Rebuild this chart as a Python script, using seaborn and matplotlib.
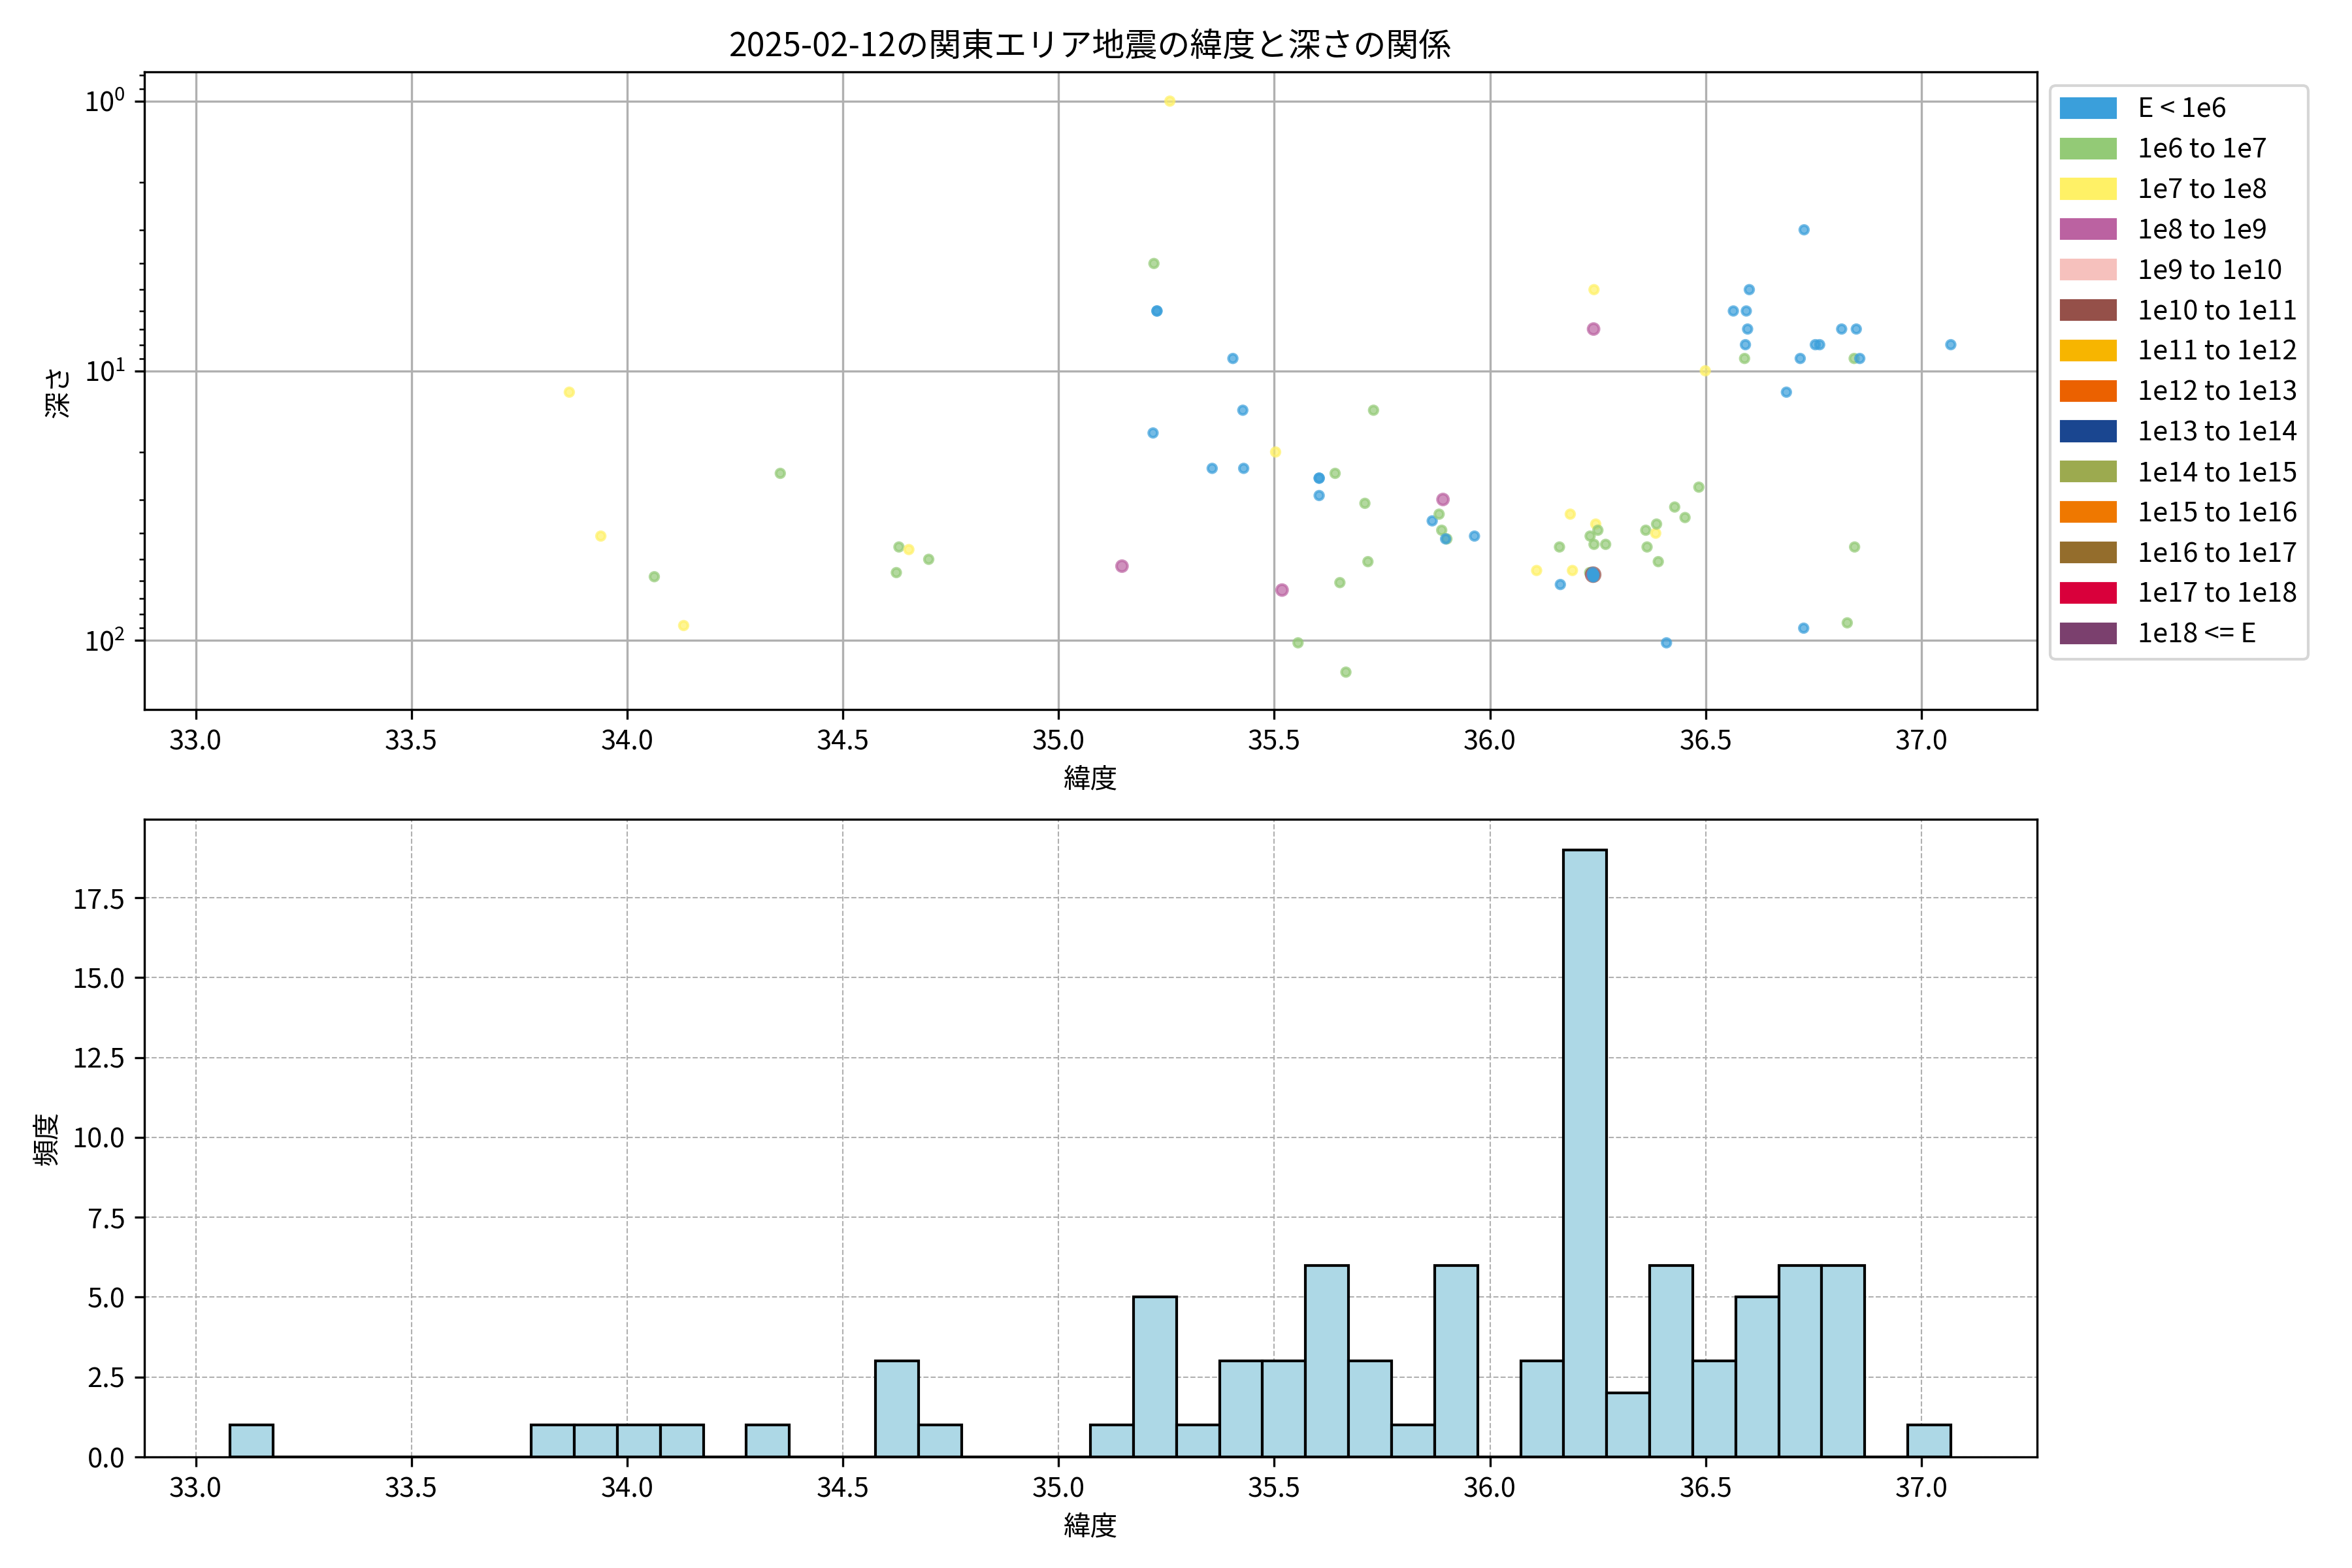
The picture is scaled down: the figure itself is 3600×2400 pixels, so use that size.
import numpy as np
import pandas as pd
import matplotlib.pyplot as plt
from matplotlib.patches import Patch
import seaborn as sns

plt.rcParams['font.family'] = ['Noto Sans CJK JP', 'DejaVu Sans']

# energy classes (legend)
energy_labels = ['E < 1e6', '1e6 to 1e7', '1e7 to 1e8', '1e8 to 1e9', '1e9 to 1e10',
                 '1e10 to 1e11', '1e11 to 1e12', '1e12 to 1e13', '1e13 to 1e14',
                 '1e14 to 1e15', '1e15 to 1e16', '1e16 to 1e17', '1e17 to 1e18', '1e18 <= E']
energy_colors = ['#3a9fdb', '#93ca76', '#fff166', '#bb62a1', '#f6c1bd',
                 '#955049', '#f7b500', '#eb6100', '#1a4690',
                 '#9caa4f', '#ef7800', '#946d2c', '#d9003b', '#7b406e']
marker_sizes = {0: 10, 1: 10, 2: 10, 3: 16, 4: 20, 5: 26}

# earthquakes: latitude, depth(km), energy class (-1 = unknown)
latitude = [33.080,
            33.866, 33.939, 34.063, 34.131, 34.355, 34.624, 34.630, 34.653, 34.699,
            35.147, 35.258, 35.221, 35.228, 35.228, 35.219, 35.356, 35.404, 35.427, 35.429,
            35.503, 35.518, 35.555, 35.604, 35.604, 35.604, 35.641, 35.652, 35.666,
            35.710, 35.717, 35.730, 35.866, 35.882, 35.891, 35.888, 35.900, 35.897, 35.964,
            36.108, 36.161, 36.163, 36.186, 36.191, 36.231, 36.232, 36.240, 36.241, 36.241,
            36.245, 36.250, 36.268,
            36.238, 36.239, 36.238, 36.240, 36.239, 36.237, 36.241, 36.238, 36.240,
            36.361, 36.364, 36.384, 36.386, 36.390, 36.409, 36.428, 36.452,
            36.484, 36.499, 36.564, 36.590, 36.592, 36.594, 36.597, 36.601,
            36.687, 36.719, 36.727, 36.728, 36.754, 36.764,
            36.815, 36.828, 36.844, 36.845, 36.849, 36.857, 37.068]
depth = [141,
         12, 41, 58, 88, 24, 56, 45, 46, 50,
         53, 1, 4, 6, 6, 17, 23, 9, 14, 23,
         20, 65, 102, 25, 25, 29, 24, 61, 131,
         31, 51, 14, 36, 34, 30, 39, 42, 42, 41,
         55, 45, 62, 34, 55, 56, 41, 7, 5, 44,
         37, 39, 44,
         57, 57, 57, 57, 58, 57, 57, 56, 58,
         39, 45, 40, 37, 51, 102, 32, 35,
         27, 10, 6, 9, 8, 6, 7, 5,
         12, 9, 90, 3, 8, 8,
         7, 86, 9, 45, 7, 9, 8]
energy_class = [-1,
                2, 2, 1, 2, 1, 1, 1, 2, 1,
                3, 2, 1, 0, 0, 0, 0, 0, 0, 0,
                2, 3, 1, 0, 0, 0, 1, 1, 1,
                1, 1, 1, 0, 1, 3, 1, 1, 0, 0,
                2, 1, 0, 2, 2, 1, 1, 3, 2, 1,
                2, 1, 1,
                1, 5, 3, 0, 0, 0, 0, 0, 0,
                1, 1, 2, 1, 1, 0, 1, 1,
                1, 2, 0, 1, 0, 0, 0, 0,
                0, 0, 0, 0, 0, 0,
                0, 1, 1, 1, 0, 0, 0]

df = pd.DataFrame({'latitude': latitude, 'depth': depth, 'energy': energy_class})
known = df[df['energy'] >= 0]
unknown = df[df['energy'] < 0]

fig, (ax1, ax2) = plt.subplots(2, 1, figsize=(12, 8), dpi=300)

# Scatter: latitude vs depth
palette = {i: energy_colors[i] for i in sorted(known['energy'].unique())}
sizes = {i: marker_sizes[i] for i in sorted(known['energy'].unique())}
sns.scatterplot(data=known, x='latitude', y='depth', hue='energy', palette=palette,
                size='energy', sizes=sizes, alpha=0.7, edgecolor='face', linewidth=1.0,
                legend=False, ax=ax1)
# events without energy have no colour
ax1.scatter(unknown['latitude'], unknown['depth'], s=10, facecolors='none', edgecolors='none')
ax1.set_yscale('log')
ax1.invert_yaxis()
ax1.set_axisbelow(True)
ax1.grid(True)
ax1.set_title('2025-02-12の関東エリア地震の緯度と深さの関係', fontsize=12)
ax1.set_xlabel('緯度')
ax1.set_ylabel('深さ')
handles = [Patch(color=c, label=l) for c, l in zip(energy_colors, energy_labels)]
ax1.legend(handles=handles, loc='upper left', bbox_to_anchor=(1, 1))

# Histogram of latitude
sns.histplot(x=df['latitude'], bins=40, color='lightblue', edgecolor='black',
             linewidth=1.0, alpha=1, ax=ax2)
ax2.set_axisbelow(True)
ax2.grid(True, linestyle='--', linewidth=0.5)
ax2.set_xlabel('緯度')
ax2.set_ylabel('頻度')

fig.subplots_adjust(left=0.0613, right=0.866, top=0.954, bottom=0.0708, hspace=0.172)
fig.savefig('out.png', dpi=300)
